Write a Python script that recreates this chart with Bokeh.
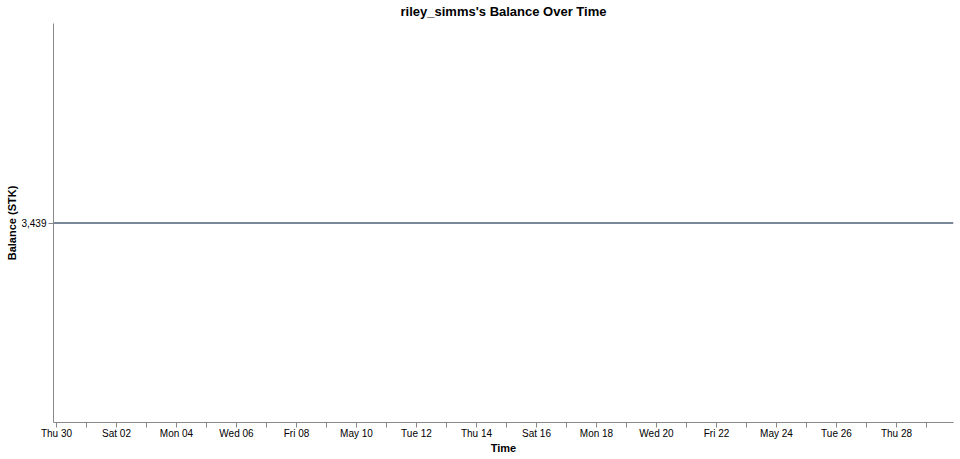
import pandas as pd
from bokeh.plotting import figure
from bokeh.models import Range1d, FixedTicker, CustomJSTickFormatter, NumeralTickFormatter
from bokeh.embed import file_html
from bokeh.resources import INLINE

# ---- data ----
times = pd.to_datetime(["2020-04-29 21:36", "2020-05-29 21:36"])
balance = [3439, 3439]

tick_dates = pd.date_range("2020-04-30", "2020-05-29", freq="D")
tick_labels = ["Thu 30", "", "Sat 02", "", "Mon 04", "", "Wed 06", "", "Fri 08", "",
               "May 10", "", "Tue 12", "", "Thu 14", "", "Sat 16", "", "Mon 18", "",
               "Wed 20", "", "Fri 22", "", "May 24", "", "Tue 26", "", "Thu 28", ""]
y_ticks = [3439]

title_text = "riley_simms's Balance Over Time"
x_title = "Time"
y_title = "Balance (STK)"

FONT = "Liberation Sans"

p = figure(width=954, height=458, output_backend="svg", toolbar_location=None,
           x_axis_type="datetime",
           x_range=Range1d(times[0], times[-1]),
           y_range=Range1d(y_ticks[0] - 1, y_ticks[0] + 1),
           min_border_left=53, min_border_right=1, min_border_top=22, min_border_bottom=36)

p.title.text = title_text
p.title.align = "center"
p.title.vertical_align = "top"
p.title.text_font = FONT
p.title.text_font_size = "13px"
p.title.text_font_style = "bold"
p.title.text_color = "#000000"
p.title.standoff = 6
p.title.offset = 0

p.line(times, balance, line_color="#7a8797", line_width=2)

tick_ms = [int(t.value // 10**6) for t in tick_dates]
xa = p.xaxis[0]
xa.ticker = FixedTicker(ticks=tick_ms, minor_ticks=[])
xa.formatter = CustomJSTickFormatter(args=dict(tick_vals=tick_ms, tick_text=tick_labels),
                                     code="const i = tick_vals.indexOf(tick); return i >= 0 ? tick_text[i] : '';")
ya = p.yaxis[0]
ya.ticker = FixedTicker(ticks=y_ticks, minor_ticks=[])
ya.formatter = NumeralTickFormatter(format="0,0")

for ax in (xa, ya):
    ax.axis_line_color = "#888888"
    ax.major_tick_line_color = "#888888"
    ax.major_tick_out = 5
    ax.major_tick_in = 0
    ax.minor_tick_out = 0
    ax.minor_tick_in = 0
    ax.major_label_text_font = FONT
    ax.major_label_text_font_size = "10px"
    ax.major_label_text_color = "#000000"
    ax.axis_label_text_font = FONT
    ax.axis_label_text_font_size = "11px"
    ax.axis_label_text_font_style = "bold"
    ax.axis_label_text_color = "#000000"

xa.major_label_standoff = 0
xa.axis_label_standoff = 0
ya.major_label_standoff = 2
ya.axis_label_standoff = 0

xa.axis_label = x_title
ya.axis_label = y_title

p.xgrid.visible = False
p.ygrid.visible = False
p.outline_line_color = None

open("out.html", "w").write(file_html(p, INLINE))
